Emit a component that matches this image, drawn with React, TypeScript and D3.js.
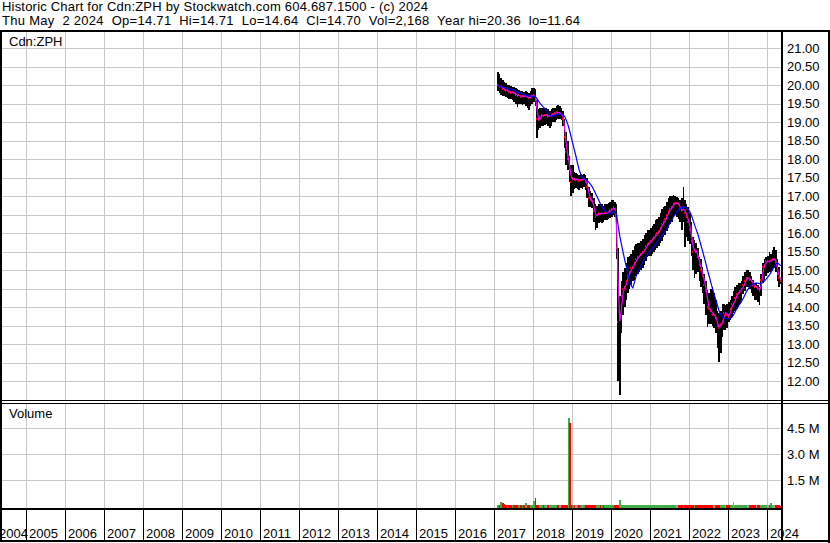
import React, { useEffect, useRef } from 'react';
import * as d3 from 'd3';

// semi-monthly samples (1st and 16th of each month), Feb 2017 .. May 2024
const START_YEAR = 2017;
const START_MONTH = 1; // February (0-based)

const highs = [
  20.37, 20.30, 20.20, 20.15, 20.10, 20.05, 20.02, 20.00, 19.98, 19.95, 19.95, 19.92, 19.90, 19.88, 19.85, 19.85, 19.82, 19.85, 19.82, 19.80, 19.85, 19.92,
  19.92, 19.90, 19.60, 19.35, 19.38, 19.40, 19.40, 19.40, 19.38, 19.35, 19.30, 19.35, 19.38, 19.40, 19.45, 19.47, 19.45, 19.40, 19.30, 19.10, 18.75, 18.50, 18.10, 17.85,
  17.85, 17.65, 17.62, 17.60, 17.58, 17.60, 17.58, 17.60, 17.58, 17.50, 17.25, 17.15, 17.10, 16.95, 16.80, 16.75, 16.80, 16.80, 16.80, 16.75, 16.78, 16.80, 16.82, 16.85,
  16.90, 16.90, 16.85, 16.80, 15.60, 14.30, 14.70, 14.95, 15.05, 15.20, 15.35, 15.40, 15.45, 15.55, 15.65, 15.70, 15.75, 15.75, 15.80, 15.85, 15.95, 16.00, 16.10, 16.10,
  16.15, 16.20, 16.25, 16.35, 16.40, 16.45, 16.55, 16.65, 16.70, 16.75, 16.85, 16.95, 17.00, 17.00, 17.04, 17.00, 16.98, 16.95, 16.90, 16.95, 17.26, 16.90, 16.80, 16.72,
  16.55, 16.30, 15.90, 15.82, 15.75, 15.60, 15.37, 15.30, 15.10, 14.90, 14.70, 14.47, 14.40, 14.50, 14.56, 14.40, 14.20, 13.90, 13.84, 13.90, 14.10, 14.10, 14.05, 14.10,
  14.15, 14.20, 14.30, 14.45, 14.55, 14.60, 14.65, 14.65, 14.70, 14.85, 14.95, 15.00, 15.00, 14.95, 14.85, 14.75, 14.65, 14.65, 14.60, 14.55, 14.90, 15.20, 15.30, 15.37,
  15.40, 15.50, 15.45, 15.55, 15.64, 15.55, 15.30, 15.10, 14.71,
];

const lows = [
  19.85, 19.80, 19.75, 19.72, 19.70, 19.68, 19.65, 19.62, 19.62, 19.60, 19.55, 19.50, 19.42, 19.50, 19.50, 19.48, 19.50, 19.45, 19.40, 19.33, 19.45, 19.50,
  19.55, 19.45, 18.57, 18.80, 18.85, 18.90, 18.90, 18.92, 18.95, 18.90, 18.85, 18.90, 19.00, 19.02, 19.05, 19.10, 19.10, 19.05, 18.90, 18.30, 17.85, 17.70, 17.40, 17.00,
  17.10, 17.20, 17.22, 17.20, 17.18, 17.22, 17.20, 17.25, 17.18, 16.95, 16.72, 16.72, 16.68, 16.30, 16.09, 16.15, 16.28, 16.30, 16.28, 16.30, 16.35, 16.35, 16.40, 16.42,
  16.45, 16.50, 16.45, 15.30, 12.00, 11.64, 13.30, 13.80, 14.00, 14.20, 14.40, 14.50, 14.60, 14.70, 14.75, 14.85, 14.90, 14.95, 15.00, 15.05, 15.15, 15.25, 15.35, 15.40,
  15.40, 15.45, 15.50, 15.55, 15.60, 15.65, 15.75, 15.80, 15.90, 15.95, 16.05, 16.15, 16.25, 16.30, 16.45, 16.50, 16.45, 16.40, 16.30, 16.10, 16.30, 15.64, 15.90, 15.80,
  15.70, 15.40, 15.00, 14.80, 14.90, 14.95, 14.70, 14.56, 14.40, 14.10, 13.80, 13.48, 13.55, 13.55, 13.50, 13.45, 13.30, 12.90, 12.53, 12.76, 13.20, 13.40, 13.39, 13.45,
  13.60, 13.66, 13.75, 13.84, 13.90, 13.95, 14.00, 14.10, 14.20, 14.35, 14.45, 14.55, 14.56, 14.50, 14.40, 14.30, 14.20, 14.20, 14.15, 14.06, 14.30, 14.65, 14.74, 14.85,
  14.93, 14.95, 14.95, 15.00, 15.05, 14.95, 14.70, 14.56, 14.64,
];

const closes = [
  20.00, 19.95, 19.97, 19.90, 19.88, 19.85, 19.86, 19.82, 19.80, 19.81, 19.78, 19.75, 19.72, 19.73, 19.69, 19.71, 19.70, 19.72, 19.68, 19.65, 19.70, 19.72,
  19.75, 19.60, 19.10, 19.05, 19.15, 19.20, 19.18, 19.20, 19.20, 19.15, 19.18, 19.20, 19.22, 19.25, 19.28, 19.25, 19.25, 19.22, 19.10, 18.60, 18.20, 18.00, 17.70, 17.40,
  17.50, 17.45, 17.45, 17.46, 17.42, 17.45, 17.45, 17.48, 17.40, 17.25, 16.95, 16.90, 16.88, 16.60, 16.45, 16.50, 16.55, 16.52, 16.55, 16.52, 16.55, 16.56, 16.58, 16.62,
  16.65, 16.70, 16.65, 15.60, 13.60, 13.65, 14.30, 14.50, 14.55, 14.70, 14.85, 14.95, 15.05, 15.10, 15.20, 15.30, 15.35, 15.40, 15.45, 15.50, 15.55, 15.65, 15.70, 15.75,
  15.80, 15.85, 15.90, 15.95, 16.00, 16.05, 16.15, 16.25, 16.30, 16.40, 16.50, 16.60, 16.65, 16.72, 16.78, 16.82, 16.82, 16.80, 16.65, 16.60, 16.70, 16.55, 16.45, 16.30,
  16.10, 15.80, 15.50, 15.55, 15.50, 15.35, 15.15, 15.00, 14.85, 14.60, 14.45, 14.00, 13.95, 13.90, 13.80, 13.80, 13.70, 13.50, 13.45, 13.55, 13.60, 13.85, 13.85, 13.80,
  13.75, 13.95, 14.10, 14.10, 14.25, 14.35, 14.40, 14.45, 14.50, 14.60, 14.70, 14.80, 14.80, 14.75, 14.70, 14.60, 14.55, 14.55, 14.50, 14.45, 14.75, 15.10, 15.15, 15.25,
  15.25, 15.22, 15.28, 15.30, 15.30, 15.20, 14.90, 14.80, 14.70,
];

// volume in millions of shares
const volumes = [
  0.08, 0.06, 0.25, 0.19, 0.14, 0.05, 0.06, 0.05, 0.06, 0.10, 0.06, 0.05, 0.06, 0.05, 0.06, 0.10, 0.06, 0.19, 0.06, 0.10, 0.05, 0.06,
  0.31, 0.50, 0.07, 0.05, 0.06, 0.05, 0.06, 0.05, 0.06, 0.05, 0.06, 0.05, 0.06, 0.05, 0.06, 0.05, 0.06, 0.05, 0.07, 0.06, 0.08, 0.06, 0.06, 0.05,
  0.06, 0.05, 0.06, 0.05, 0.06, 0.05, 0.06, 0.05, 0.06, 0.05, 0.06, 0.05, 0.06, 0.05, 0.06, 0.05, 0.06, 0.05, 0.06, 0.05, 0.10, 0.05, 0.06, 0.05,
  0.06, 0.05, 0.06, 0.08, 0.07, 0.38, 0.06, 0.05, 0.06, 0.05, 0.06, 0.05, 0.06, 0.05, 0.06, 0.05, 0.06, 0.05, 0.06, 0.05, 0.06, 0.05, 0.06, 0.05,
  0.05, 0.06, 0.05, 0.06, 0.05, 0.06, 0.05, 0.06, 0.05, 0.06, 0.05, 0.06, 0.05, 0.06, 0.05, 0.06, 0.05, 0.06, 0.05, 0.06, 0.05, 0.06, 0.05, 0.06,
  0.10, 0.06, 0.05, 0.06, 0.05, 0.06, 0.05, 0.06, 0.05, 0.06, 0.05, 0.06, 0.05, 0.06, 0.05, 0.06, 0.05, 0.06, 0.05, 0.06, 0.05, 0.06, 0.05, 0.06,
  0.05, 0.06, 0.05, 0.25, 0.05, 0.06, 0.05, 0.06, 0.05, 0.06, 0.05, 0.06, 0.05, 0.06, 0.05, 0.06, 0.05, 0.06, 0.05, 0.06, 0.05, 0.06, 0.05, 0.06,
  0.05, 0.06, 0.19, 0.05, 0.06, 0.05, 0.06, 0.05, 0.04,
];

// the block trade of late 2018
const volumeSpikes = [
  { date: '2018-11-23', vol: 5.08, up: true },
  { date: '2018-12-06', vol: 4.79, up: false },
];

const priceTicks = [12, 12.5, 13, 13.5, 14, 14.5, 15, 15.5, 16, 16.5, 17, 17.5, 18, 18.5, 19, 19.5, 20, 20.5, 21];
const volumeTicks = [1.5, 3.0, 4.5];
const yearLabels = ['2004', '2005', '2006', '2007', '2008', '2009', '2010', '2011', '2012', '2013', '2014',
  '2015', '2016', '2017', '2018', '2019', '2020', '2021', '2022', '2023', '2024'];

const headerLine1 = 'Historic Chart for Cdn:ZPH by Stockwatch.com 604.687.1500 - (c) 2024';
const headerLine2 = 'Thu May  2 2024  Op=14.71  Hi=14.71  Lo=14.64  Cl=14.70  Vol=2,168  Year hi=20.36  lo=11.64';

const W = 830;
const H = 543;

const App: React.FC = () => {
  const ref = useRef<SVGSVGElement>(null);

  useEffect(() => {
    if (!ref.current) return;
    const svg = d3.select(ref.current);
    svg.selectAll('*').remove();

    const font = '"Liberation Sans", Arial, sans-serif';
    const plotRight = 781;

    const dates = closes.map((_, i) =>
      new Date(Date.UTC(START_YEAR, START_MONTH + Math.floor(i / 2), i % 2 ? 16 : 1)));

    const x = d3.scaleUtc()
      .domain([new Date(Date.UTC(2005, 0, 1)), new Date(Date.UTC(2024, 0, 1))])
      .range([26, 767]);
    const y = d3.scaleLinear().domain([12, 21]).range([381.3, 48.3]);
    const yv = d3.scaleLinear().domain([0, 4.5]).range([506.3, 428.3]);

    svg.append('rect').attr('width', W).attr('height', H).attr('fill', '#fff');

    // header (the original is drawn a little wider than Arial's metrics)
    svg.append('text').attr('x', 2).attr('y', 11)
      .attr('textLength', 426).attr('lengthAdjust', 'spacing')
      .text(headerLine1);
    svg.append('text').attr('x', 2).attr('y', 25)
      .attr('textLength', 578).attr('lengthAdjust', 'spacing')
      .style('white-space', 'pre')
      .text(headerLine2);

    // grid
    const grid = svg.append('g')
      .attr('stroke', '#c8c8c8')
      .attr('stroke-width', 1)
      .attr('shape-rendering', 'crispEdges');

    grid.selectAll('.hp')
      .data(priceTicks)
      .enter().append('line')
      .attr('x1', 2).attr('x2', plotRight)
      .attr('y1', d => Math.round(y(d)) + 0.5)
      .attr('y2', d => Math.round(y(d)) + 0.5);

    grid.selectAll('.hv')
      .data(volumeTicks)
      .enter().append('line')
      .attr('x1', 2).attr('x2', plotRight)
      .attr('y1', d => Math.round(yv(d)) + 0.5)
      .attr('y2', d => Math.round(yv(d)) + 0.5);

    const years = yearLabels.map(s => new Date(Date.UTC(+s, 0, 1)));
    const innerYears = years.filter(d => x(d) > 2 && x(d) < plotRight);

    grid.selectAll('.vp')
      .data(innerYears)
      .enter().append('line')
      .attr('x1', d => Math.round(x(d)) + 0.5)
      .attr('x2', d => Math.round(x(d)) + 0.5)
      .attr('y1', 32).attr('y2', 400);

    grid.selectAll('.vv')
      .data(innerYears)
      .enter().append('line')
      .attr('x1', d => Math.round(x(d)) + 0.5)
      .attr('x2', d => Math.round(x(d)) + 0.5)
      .attr('y1', 404).attr('y2', 508);

    // price bars
    const step = (i: number) => (i < dates.length - 1 ? x(dates[i + 1]) : x(dates[i]) + 1.6);
    const bars = svg.append('g').attr('shape-rendering', 'crispEdges');

    bars.selectAll('.hl')
      .data(closes)
      .enter().append('rect')
      .attr('x', (_, i) => x(dates[i]))
      .attr('width', (_, i) => step(i) - x(dates[i]))
      .attr('y', (_, i) => y(highs[i]))
      .attr('height', (_, i) => Math.max(1, y(lows[i]) - y(highs[i])))
      .attr('fill', '#000');

    bars.selectAll('.cl')
      .data(closes)
      .enter().append('rect')
      .attr('x', (_, i) => x(dates[i]))
      .attr('width', 1)
      .attr('y', d => y(d) - 1)
      .attr('height', 2)
      .attr('fill', '#ff0000');

    // moving averages
    const movingAvg = (n: number) =>
      closes.map((_, i) => d3.mean(closes.slice(Math.max(0, i - n + 1), i + 1)) as number);
    const midX = (i: number) => (x(dates[i]) + step(i)) / 2;
    const line = d3.line<number>().x((_, i) => midX(i)).y(d => y(d));

    svg.append('path')
      .attr('d', line(movingAvg(2)))
      .attr('fill', 'none')
      .attr('stroke', '#ff00ff')
      .attr('stroke-width', 1.2);

    svg.append('path')
      .attr('d', line(movingAvg(10)))
      .attr('fill', 'none')
      .attr('stroke', '#0000ff')
      .attr('stroke-width', 1.2);

    // volume
    const green = '#3cb043';
    const vol = svg.append('g').attr('shape-rendering', 'crispEdges');
    vol.selectAll('.vb')
      .data(volumes)
      .enter().append('rect')
      .attr('x', (_, i) => x(dates[i]))
      .attr('width', (_, i) => step(i) - x(dates[i]))
      .attr('y', d => yv(d))
      .attr('height', d => 508 - yv(d))
      .attr('fill', (_, i) => {
        if (i === 0) return green;
        const diff = closes[i] - closes[i - 1];
        return diff > 0 ? green : diff < 0 ? '#ff0000' : '#a0a0a0';
      });

    vol.selectAll('.vs')
      .data(volumeSpikes)
      .enter().append('rect')
      .attr('x', d => x(new Date(d.date)))
      .attr('width', 2)
      .attr('y', d => yv(d.vol))
      .attr('height', d => 508 - yv(d.vol))
      .attr('fill', d => (d.up ? green : '#ff0000'));

    // frame
    const frame = svg.append('g').attr('fill', '#000').attr('shape-rendering', 'crispEdges');
    frame.append('rect').attr('x', 0).attr('y', 30).attr('width', W).attr('height', 2);
    frame.append('rect').attr('x', 0).attr('y', 30).attr('width', 2).attr('height', 512);
    frame.append('rect').attr('x', plotRight).attr('y', 30).attr('width', 2).attr('height', 512);
    frame.append('rect').attr('x', 828).attr('y', 30).attr('width', 2).attr('height', 513);
    frame.append('rect').attr('x', 0).attr('y', 400).attr('width', W).attr('height', 1);
    frame.append('rect').attr('x', 0).attr('y', 403).attr('width', W).attr('height', 1);
    frame.append('rect').attr('x', 0).attr('y', 508).attr('width', plotRight).attr('height', 2);
    frame.append('rect').attr('x', 0).attr('y', 540).attr('width', W).attr('height', 2);

    // time axis
    const axis = svg.append('g');
    axis.selectAll('line')
      .data(years.filter(d => x(d) > 2))
      .enter().append('line')
      .attr('x1', d => Math.round(x(d)) + 0.5)
      .attr('x2', d => Math.round(x(d)) + 0.5)
      .attr('y1', 510).attr('y2', 540)
      .attr('stroke', '#000')
      .attr('shape-rendering', 'crispEdges');

    axis.selectAll('text')
      .data(years)
      .enter().append('text')
      .attr('x', d => Math.max(-1, Math.round(x(d)) + 3))
      .attr('y', 538)
      .text(d => String(d.getUTCFullYear()));

    // right-hand labels
    svg.selectAll('.pl')
      .data(priceTicks)
      .enter().append('text')
      .attr('x', 787)
      .attr('y', d => y(d) + 4.5)
      .text(d => d.toFixed(2));

    svg.selectAll('.vl')
      .data(volumeTicks)
      .enter().append('text')
      .attr('x', 787)
      .attr('y', d => yv(d) + 4.5)
      .text(d => `${d.toFixed(1)} M`);

    svg.append('text').attr('x', 9).attr('y', 46).text('Cdn:ZPH');
    svg.append('text').attr('x', 9).attr('y', 417.5).text('Volume');

    svg.selectAll('text')
      .attr('font-family', font)
      .attr('font-size', '13px')
      .attr('fill', '#000');
  }, []);

  return (
    <svg
      ref={ref}
      width={W}
      height={H}
      style={{ position: 'absolute', left: 0, top: 0, display: 'block' }}
    />
  );
};

export default App;
